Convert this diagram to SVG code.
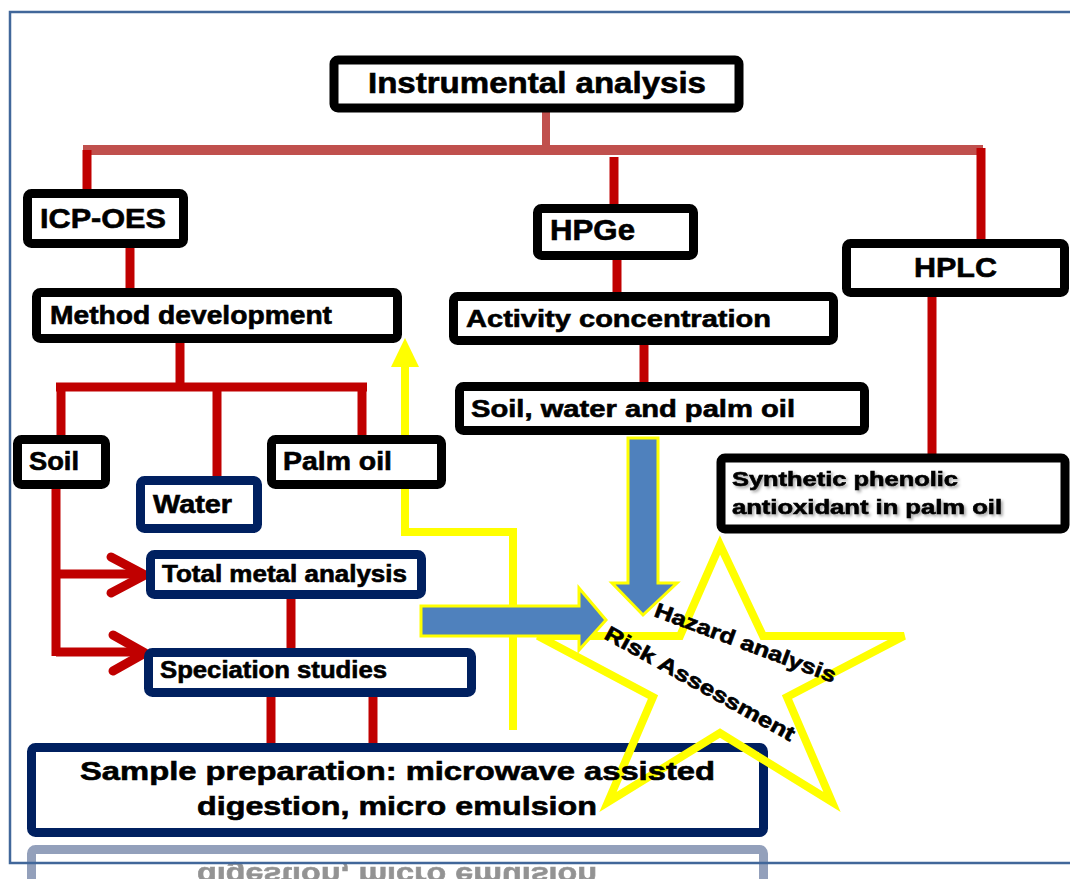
<svg xmlns="http://www.w3.org/2000/svg" width="1070" height="879" viewBox="0 0 1070 879">
<defs>
<style>
.bk{fill:#fff;stroke:#000;stroke-width:9}
.nv{fill:#fff;stroke:#002060;stroke-width:9}
.t{font-family:"Liberation Sans",Arial,sans-serif;font-weight:bold;fill:#000;stroke:#000;stroke-width:0.6}
.rd{stroke:#C00000;stroke-width:9;fill:none}
.sal{stroke:#C0504D;fill:none}
.ba{fill:#4F81BD;stroke:#FFFF00;stroke-width:3;stroke-linejoin:miter}
.frame{stroke:#41679A;stroke-width:2.5;fill:none}
</style>
<filter id="sh" x="-5%" y="-20%" width="110%" height="150%">
<feDropShadow dx="2" dy="2" stdDeviation="1.5" flood-color="#000" flood-opacity="0.35"/>
</filter>
</defs>
<rect width="1070" height="879" fill="#fff"/>

<!-- reflection of the sample preparation box -->
<g id="reflection" transform="matrix(1 0 0 -1 0 1682)" opacity="0.42">
<rect x="31.5" y="747.5" width="732" height="85" rx="4" class="nv"/>
<text class="t" x="197" y="815" font-size="26" textLength="400" lengthAdjust="spacingAndGlyphs">digestion, micro emulsion</text>
</g>

<g id="connectors">
<line class="sal" x1="546" y1="106" x2="546" y2="152" stroke-width="8"/>
<line class="sal" x1="83" y1="150" x2="983" y2="150" stroke-width="10"/>
<line class="rd" x1="87" y1="150" x2="87" y2="190"/>
<line class="rd" x1="614" y1="157" x2="614" y2="205"/>
<line class="rd" x1="981" y1="148" x2="981" y2="240"/>
<line class="rd" x1="130" y1="246" x2="130" y2="290"/>
<line class="rd" x1="180" y1="342" x2="180" y2="388"/>
<line class="rd" x1="56" y1="387" x2="367" y2="387"/>
<line class="rd" x1="61" y1="387" x2="61" y2="437"/>
<line class="rd" x1="217" y1="387" x2="217" y2="478"/>
<line class="rd" x1="362" y1="387" x2="362" y2="437"/>
<line class="rd" x1="617" y1="258" x2="617" y2="294"/>
<line class="rd" x1="644" y1="343" x2="644" y2="395"/>
<line class="rd" x1="932" y1="295" x2="932" y2="466"/>
<polyline class="rd" points="56,489 56,656"/>
<line class="rd" x1="56" y1="574" x2="143" y2="574"/>
<line class="rd" x1="56" y1="652" x2="143" y2="652"/>
<polyline class="rd" points="111,557 145,575 111,593" stroke-width="10" stroke-linecap="round" stroke-linejoin="round"/>
<polyline class="rd" points="113,635 145,653 113,671" stroke-width="10" stroke-linecap="round" stroke-linejoin="round"/>
<line class="rd" x1="291" y1="597" x2="291" y2="650"/>
<line class="rd" x1="271" y1="695" x2="271" y2="748"/>
<line class="rd" x1="373" y1="695" x2="373" y2="748"/>
<polyline points="405,360 405,532 513,532 513,730" fill="none" stroke="#FFFF00" stroke-width="8"/>
<polygon points="405,338 391,367 419,367" fill="#FFFF00"/>
</g>

<g id="n-instrumental">
<rect x="334" y="60" width="405" height="48" rx="4" class="bk" stroke-width="10"/>
<text class="t" x="368" y="93" font-size="29" textLength="338" lengthAdjust="spacingAndGlyphs">Instrumental analysis</text>
</g>
<g id="n-icpoes">
<rect x="27.5" y="193.5" width="156" height="50" rx="4" class="bk"/>
<text class="t" x="40" y="228" font-size="28" textLength="126" lengthAdjust="spacingAndGlyphs">ICP-OES</text>
</g>
<g id="n-method">
<rect x="36.5" y="292.5" width="361" height="46" rx="4" class="bk"/>
<text class="t" x="50" y="324" font-size="25" textLength="282" lengthAdjust="spacingAndGlyphs">Method development</text>
</g>
<g id="n-soil">
<rect x="17.5" y="439.5" width="88" height="45" rx="4" class="bk"/>
<text class="t" x="29" y="470" font-size="25" textLength="50" lengthAdjust="spacingAndGlyphs">Soil</text>
</g>
<g id="n-water">
<rect x="140.5" y="480.5" width="117" height="48" rx="4" class="nv"/>
<text class="t" x="153" y="513" font-size="25" textLength="79" lengthAdjust="spacingAndGlyphs">Water</text>
</g>
<g id="n-palmoil">
<rect x="271.5" y="439.5" width="170" height="45" rx="4" class="bk"/>
<text class="t" x="283" y="470" font-size="25" textLength="109" lengthAdjust="spacingAndGlyphs">Palm oil</text>
</g>
<g id="n-hpge">
<rect x="537.5" y="208.5" width="156" height="47" rx="4" class="bk"/>
<text class="t" x="550" y="240" font-size="29" textLength="85" lengthAdjust="spacingAndGlyphs">HPGe</text>
</g>
<g id="n-activity">
<rect x="453.5" y="296.5" width="380" height="44" rx="4" class="bk"/>
<text class="t" x="466" y="327" font-size="24" textLength="305" lengthAdjust="spacingAndGlyphs">Activity concentration</text>
</g>
<g id="n-swp">
<rect x="459.5" y="386.5" width="405" height="44" rx="4" class="bk"/>
<text class="t" x="471" y="417" font-size="24" textLength="324" lengthAdjust="spacingAndGlyphs">Soil, water and palm oil</text>
</g>
<g id="n-hplc">
<rect x="846.5" y="243.5" width="218" height="49" rx="4" class="bk"/>
<text class="t" x="914" y="277" font-size="28" textLength="83" lengthAdjust="spacingAndGlyphs">HPLC</text>
</g>
<g id="n-synthetic">
<rect x="721" y="458" width="344" height="71" rx="4" class="bk" stroke-width="8"/>
<g filter="url(#sh)">
<text class="t" x="732" y="486" font-size="20" textLength="226" lengthAdjust="spacingAndGlyphs">Synthetic phenolic</text>
<text class="t" x="732" y="514" font-size="20" textLength="270" lengthAdjust="spacingAndGlyphs">antioxidant in palm oil</text>
</g>
</g>
<g id="n-totalmetal">
<rect x="150.5" y="554.5" width="271" height="40" rx="4" class="nv"/>
<text class="t" x="162" y="582" font-size="23" textLength="245" lengthAdjust="spacingAndGlyphs">Total metal analysis</text>
</g>
<g id="n-speciation">
<rect x="148.5" y="652.5" width="323" height="40" rx="4" class="nv"/>
<text class="t" x="160" y="678" font-size="23" textLength="227" lengthAdjust="spacingAndGlyphs">Speciation studies</text>
</g>
<g id="n-sample">
<rect x="31.5" y="747.5" width="732" height="85" rx="4" class="nv"/>
</g>

<g id="n-hazard">
<polygon points="720,545 763,636 904,636 787,697 832,802 720,733 608,802 653,697 538,636 680,636" fill="none" stroke="#FFFF00" stroke-width="8" stroke-linejoin="miter"/>
<text class="t" font-size="21" transform="translate(653,616) rotate(20.4)" textLength="192" lengthAdjust="spacingAndGlyphs">Hazard analysis</text>
<text class="t" font-size="21" transform="translate(603,638) rotate(29)" textLength="214" lengthAdjust="spacingAndGlyphs">Risk Assessment</text>
</g>

<g id="n-sample-text">
<text class="t" x="80" y="780" font-size="26" textLength="635" lengthAdjust="spacingAndGlyphs">Sample preparation: microwave assisted</text>
<text class="t" x="197" y="815" font-size="26" textLength="400" lengthAdjust="spacingAndGlyphs">digestion, micro emulsion</text>
</g>

<g id="blue-arrows">
<polygon class="ba" points="628,438 658,438 658,583 677,583 643,615 612,583 628,583"/>
<polygon class="ba" points="421,606 579,606 579,588 606,620 579,650 579,636 421,636"/>
</g>

<g id="frame">
<polyline class="frame" points="1070,12 10,12 10,863 1070,863"/>
</g>
</svg>
